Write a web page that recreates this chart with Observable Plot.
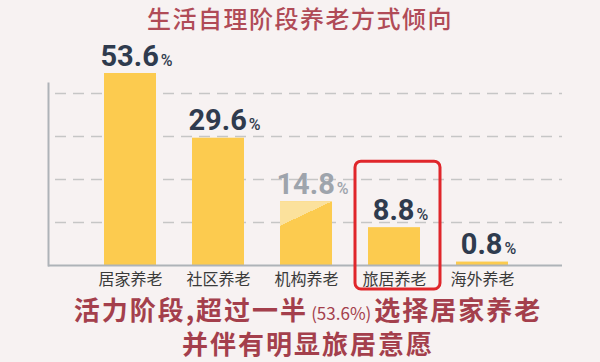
<!DOCTYPE html>
<html>
<head>
<meta charset="utf-8">
<script src="https://cdn.jsdelivr.net/npm/d3@7"></script>
<script src="https://cdn.jsdelivr.net/npm/@observablehq/plot@0.6"></script>
<style>
  html, body { margin: 0; padding: 0; background: #f7f2f2; }
  #wrap { width: 600px; background: #f7f2f2; }
  #title { height: 36px; line-height: 36px; text-align: center; font-family: "Noto Sans CJK SC", sans-serif;
           font-size: 24px; font-weight: 500; letter-spacing: 1.5px; color: #b04b57; }
  #chart { height: 260px; }
  #caption { margin-top: -2px; text-align: center; font-family: "Noto Sans CJK SC", sans-serif; font-size: 26px;
             font-weight: 700; line-height: 30px; color: #a43f4c; letter-spacing: 2px; padding-left: 16px; box-sizing: border-box; }
  #caption .small { font-size: 17px; font-weight: 400; letter-spacing: 0; margin: 0 3px; }
</style>
</head>
<body>
<div id="wrap">
  <div id="title"></div>
  <div id="chart"></div>
  <div id="caption"></div>
</div>
<script>
const titleText = "生活自理阶段养老方式倾向";
const categories = ["居家养老", "社区养老", "机构养老", "旅居养老", "海外养老"];
const values = [53.6, 29.6, 14.8, 8.8, 0.8];
const gridTicks = [10, 20, 30, 40];
const highlighted = "旅居养老";
const mutedCategory = "机构养老";
const captionLine1 = ["活力阶段,超过一半", "(53.6%)", "选择居家养老"];
const captionLine2 = "并伴有明显旅居意愿";

const data = categories.map((cat, i) => ({cat, value: values[i]}));

document.getElementById("title").textContent = titleText;
const cap = document.getElementById("caption");
cap.innerHTML = "";
const l1 = document.createElement("div");
l1.append(captionLine1[0]);
const sm = document.createElement("span"); sm.className = "small"; sm.textContent = captionLine1[1];
l1.append(sm); l1.append(captionLine1[2]);
const l2 = document.createElement("div"); l2.textContent = captionLine2;
cap.append(l1, l2);

const numFont = "Roboto, 'Liberation Sans', sans-serif";
const labelOpts = {x: "cat", y: "value", text: d => d.value.toFixed(1), dy: -8, dx: 6,
  lineAnchor: "bottom", fontSize: 29, fontWeight: 700, fontFamily: numFont, className: "vlabel"};

const svg = Plot.plot({
  width: 600, height: 260,
  marginLeft: 48, marginRight: 38, marginTop: 47, marginBottom: 31,
  style: {background: "transparent", fontFamily: "'Noto Sans CJK SC', sans-serif", overflow: "visible"},
  x: {type: "band", domain: categories, range: [84.25, 526.75], paddingInner: 0.412, paddingOuter: 0.206, align: 0.5},
  y: {type: "linear", domain: [0, 40, 53.6], range: [229, 57, 37], axis: null},
  marks: [
    Plot.ruleY(gridTicks, {stroke: "#c6c6c6", strokeWidth: 1.5, strokeDasharray: "11,7", insetLeft: 7}),
    Plot.barY(data, {x: "cat", y: "value", fill: "#fccb4f"}),
    Plot.barY(data.filter(d => d.cat === mutedCategory), {x: "cat", y: "value", fill: "url(#hlgrad)"}),
    Plot.ruleY([0], {stroke: "#aeb3b8", strokeWidth: 2}),
    Plot.frame({anchor: "left", stroke: "#aeb3b8", strokeWidth: 2}),
    Plot.text(data.filter(d => d.cat !== mutedCategory), {...labelOpts, fill: "#2f3b4e"}),
    Plot.text(data.filter(d => d.cat === mutedCategory), {...labelOpts, fill: "#9ea4ac"}),
    Plot.axisX({tickSize: 0, tickPadding: 8, fontSize: 16, fill: "#3a3a3a", label: null}),
    Plot.rect(data.filter(d => d.cat === highlighted), {x: "cat", y1: 0, y2: "value",
      fill: "none", stroke: "#e0262b", strokeWidth: 3, rx: 6,
      insetLeft: -13, insetRight: -20, insetTop: -66, insetBottom: -24})
  ]
});

// gradient for the lighter highlight on the muted bar
const defs = d3.select(svg).insert("defs", ":first-child");
const g = defs.append("linearGradient").attr("id", "hlgrad")
  .attr("x1", 0).attr("y1", 0).attr("x2", 0.385).attr("y2", 1);
g.append("stop").attr("offset", 0).attr("stop-color", "#fbe19c");
g.append("stop").attr("offset", 0.335).attr("stop-color", "#fbe19c");
g.append("stop").attr("offset", 0.335).attr("stop-color", "#fccb4f");
g.append("stop").attr("offset", 1).attr("stop-color", "#fccb4f");

// add smaller "%" after each value label
d3.select(svg).selectAll(".vlabel text").each(function() {
  d3.select(this).append("tspan").attr("dx", 2).attr("font-size", 16).attr("font-weight", 500).text("%");
});

document.getElementById("chart").append(svg);
</script>
</body>
</html>
